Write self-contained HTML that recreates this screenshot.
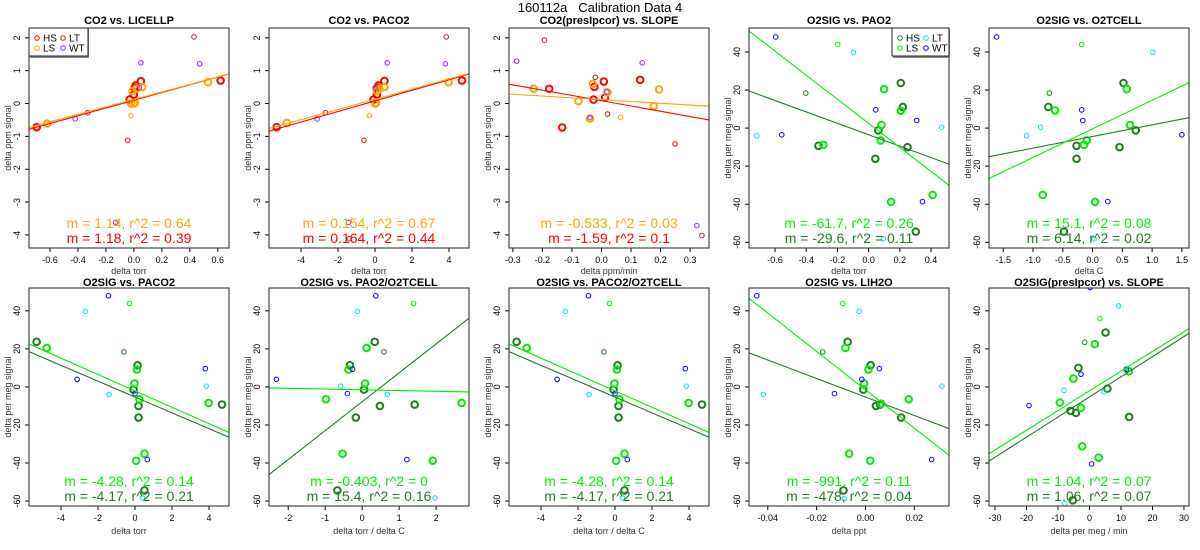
<!DOCTYPE html>
<html><head><meta charset="utf-8"><style>
html,body{margin:0;padding:0;background:#fff;}
svg{display:block;font-family:"Liberation Sans",sans-serif;}
</style></head><body>
<svg id="chart" width="1200" height="550" viewBox="0 0 1200 550" xmlns="http://www.w3.org/2000/svg">
<rect width="1200" height="550" fill="#fff"/>
<text x="600" y="12" text-anchor="middle" font-size="13" style="white-space:pre" xml:space="preserve">160112a   Calibration Data 4</text>
</svg>
<script>
// ---- data (x,y pairs) ----
const p1HS=[[-0.695,-0.72],[-0.03,0.12],[0.0,0.27],[0.006,0.48],[0.013,0.55],[0.05,0.68],[0.62,0.70]];
const p1LS=[[-0.62,-0.61],[-0.02,0.0],[0.0,0.0],[0.008,0.02],[-0.01,0.38],[0.018,0.45],[0.06,0.5],[0.53,0.65]];
const p1LT=[[-0.33,-0.28],[0.43,2.03]];
const p1WT=[[-0.42,-0.47],[0.05,1.24],[0.47,1.21],[-0.13,-3.62],[0.04,0.48]];
const p1HSo=[[-0.044,-1.12]];
const p1LSo=[[-0.02,-0.37]];
const p1Fit=[1.14,0.125,1.18,0.1];
const p1Stat=["m = 1.14, r^2 = 0.64","m = 1.18, r^2 = 0.39"];

const p2HS=[[-5.32,-0.72],[-0.08,0.12],[0.1,0.27],[0.14,0.48],[0.19,0.55],[0.51,0.69],[4.7,0.70]];
const p2LS=[[-4.77,-0.59],[0,0],[0.06,0.02],[0.1,0.38],[0.24,0.45],[0.51,0.5],[3.98,0.65]];
const p2LT=[[-2.68,-0.28],[3.85,2.03],[-1.4,-4.12]];
const p2WT=[[-3.13,-0.47],[0.66,1.24],[3.8,1.21],[-1.44,-3.62],[0,0.48]];
const p2HSo=[[-0.6,-1.12]];
const p2LSo=[[-0.3,-0.37]];
const p2Fit=[0.155,0.128,0.161,0.08];
const p2Stat=["m = 0.154, r^2 = 0.67","m = 0.164, r^2 = 0.44"];

const p3HS=[[-0.177,0.45],[-0.133,-0.73],[-0.027,0.12],[-0.024,0.51],[0.008,0.67],[0.012,0.18],[0.131,0.72]];
const p3LS=[[-0.229,0.45],[-0.078,0.07],[-0.039,-0.46],[-0.029,0.6],[0.02,0.34],[0.177,-0.08],[0.195,0.43]];
const p3LT=[[-0.193,1.93],[-0.021,0.8],[0.02,-0.32],[0.34,-4.02]];
const p3WT=[[-0.287,1.29],[-0.039,-0.43],[0.018,0.35],[0.138,1.24],[0.323,-3.72]];
const p3HSo=[[0.249,-1.23]];
const p3LSo=[[0.065,-0.42]];
const p3Fit=[-0.55,0.118,-1.61,0.086];
const p3Stat=["m = -0.533, r^2 = 0.03","m = -1.59, r^2 = 0.1"];

const p4HS=[[-0.322,-9.3],[0.062,-1.2],[0.043,-16.1],[0.206,23.7],[0.219,11.1],[0.249,-10],[0.302,-54.4]];
const p4LS=[[-0.29,-8.8],[0.099,20.5],[0.082,1.6],[0.077,-6.5],[0.206,9.1],[0.144,-38.8],[0.41,-35.1]];
const p4LT=[[-0.717,-4],[-0.098,39.8],[0.468,0.5],[0.094,-58.2]];
const p4WT=[[-0.596,47.9],[-0.557,-3.5],[0.045,9.6],[0.308,4],[0.345,-38.6]];
const p4HSo=[[-0.403,18.4]];
const p4LSo=[[-0.198,44]];
const p4Fit=[-63.2,2.5,-30,-3.5];
const p4Stat=["m = -61.7, r^2 = 0.26","m = -29.6, r^2 = 0.11"];

const p5HS=[[-0.743,11.1],[-0.27,-9.3],[-0.27,-16.1],[0.452,-10],[0.52,23.7],[0.726,-1.2],[-0.48,-54.4]];
const p5LS=[[-0.63,9.3],[-0.838,-35.1],[-0.143,-8.8],[-0.098,-6.5],[0.042,-38.8],[0.575,20.5],[0.63,1.6]];
const p5LT=[[-1.108,-4],[-0.872,0.5],[1.013,39.8],[0.025,-58.2]];
const p5WT=[[-1.612,47.9],[-0.182,9.6],[-0.165,4],[0.255,-38.6],[1.5,-3.5]];
const p5HSo=[[-0.726,18.4]];
const p5LSo=[[-0.182,44]];
const p5Fit=[15.0,-0.4,6.1,-4.4];
const p5Stat=["m = 15.1, r^2 = 0.08","m = 6.14, r^2 = 0.02"];

const p6HS=[[-5.32,23.7],[-0.08,-1.4],[0.14,11.4],[0.19,-10],[0.19,-16.1],[0.51,-54.4],[4.7,-9.3]];
const p6LS=[[-4.77,20.5],[-0.03,1.8],[0.1,9.1],[0.24,-6.5],[0.06,-38.8],[0.51,-35.1],[3.98,-8.4]];
const p6LT=[[-2.68,39.8],[-1.4,-4],[3.85,0.4],[0.4,-58.4]];
const p6WT=[[-1.44,47.9],[-3.13,4],[0,-3.5],[3.8,9.6],[0.66,-38.2]];
const p6HSo=[[-0.6,18.4]];
const p6LSo=[[-0.3,43.9]];
const p6Fit=[-4.3,-2.1,-4.16,-5.3];
const p6Stat=["m = -4.28, r^2 = 0.14","m = -4.17, r^2 = 0.21"];

const p7HS=[[-0.33,11.4],[0.05,-1.4],[-0.17,-16.1],[0.34,23.7],[0.48,-10],[1.42,-9.3],[-0.67,-54.4]];
const p7LS=[[-0.37,9.1],[0.12,20.5],[0.08,1.8],[-0.98,-6.5],[-0.53,-35.1],[1.91,-38.8],[2.69,-8.4]];
const p7LT=[[-0.13,39.8],[-0.58,0.4],[0.68,-4],[1.97,-58.4]];
const p7WT=[[0.37,47.9],[-2.32,4],[-0.26,9.3],[-0.4,-3.5],[1.21,-38.2]];
const p7HSo=[[0.59,18.4]];
const p7LSo=[[1.39,43.9]];
const p7Fit=[-0.39,-1.5,15.2,-7.8];
const p7Stat=["m = -0.403, r^2 = 0","m = 15.4, r^2 = 0.16"];

const p8HS=p6HS, p8LS=p6LS, p8LT=p6LT, p8WT=p6WT, p8HSo=p6HSo, p8LSo=p6LSo;
const p8Fit=[-4.3,-2.1,-4.16,-5.3];
const p8Stat=["m = -4.28, r^2 = 0.14","m = -4.17, r^2 = 0.21"];

const p9HS=[[-0.0073,23.7],[0.0021,11.4],[-0.0009,-1.4],[0.0043,-10],[0.006,-9.3],[0.0146,-16.1],[-0.009,-54.4]];
const p9LS=[[-0.0082,20.5],[0.0012,9.1],[-0.0006,1.8],[0.0064,-8.8],[0.0177,-6.5],[-0.0067,-35.1],[0.0019,-38.8]];
const p9LT=[[-0.0418,-4],[-0.0026,39.8],[0.0313,0.4],[-0.0087,-58.8]];
const p9WT=[[-0.0445,47.9],[-0.0127,-3.5],[-0.0015,4],[0.0057,9.6],[0.0271,-38.2]];
const p9HSo=[[-0.0175,18.4]];
const p9LSo=[[-0.0093,43.9]];
const p9Fit=[-1007,-1.5,-486,-5.3];
const p9Stat=["m = -991, r^2 = 0.11","m = -478, r^2 = 0.04"];

const p10HS=[[-3.5,10],[5.1,28.6],[-6,-12.6],[-4.3,-13.7],[5.7,-0.9],[12.6,-15.8],[-5.3,-59.6]];
const p10LS=[[1.7,22.5],[-5.1,4.4],[-9.4,-8.2],[-2.7,-11],[12.5,8.2],[-2.3,-31.2],[2.9,-37.2]];
const p10LT=[[-8.1,-1.8],[9.2,42.6],[4.6,-2.6],[-7.8,-61.4]];
const p10WT=[[-19.2,-9.8],[-2.7,6.7],[0.2,52.3],[0.7,-40.5],[11.7,9.3]];
const p10HSo=[[-1.5,23.5]];
const p10LSo=[[3.3,36]];
const p10Fit=[1.036,-2.05,1.058,-5.25];
const p10Stat=["m = 1.04, r^2 = 0.07","m = 1.06, r^2 = 0.07"];

const co2Ticks=[-4,-3,-2,-1,0,1,2];
const o2Ticks=[-60,-40,-20,0,20,40];

// ---- layout / styling ----
const NS="http://www.w3.org/2000/svg";
const svg=document.getElementById('chart');
const CO2C={HS:'#ff0000',LS:'#ffa500',LT:'#a52a2a',WT:'#a020f0'};
const O2C={HS:'#1e7d1e',LS:'#00ee00',LT:'#00e5ee',WT:'#0000ff'};
function mk(tag,attrs,parent){const e=document.createElementNS(NS,tag);for(const k in attrs)e.setAttribute(k,attrs[k]);(parent||svg).appendChild(e);return e;}

const panels=[
 {id:1,px:0,top:true,title:'CO2 vs. LICELLP',xlab:'delta torr',co2:true,xr:[-0.75,0.68],xt:[-0.6,-0.4,-0.2,0,0.2,0.4,0.6],xl:['-0.6','-0.4','-0.2','0.0','0.2','0.4','0.6'],d:[p1HS,p1LS,p1LT,p1WT,p1HSo,p1LSo],f:p1Fit,s:p1Stat,leg:'left'},
 {id:2,px:240,top:true,title:'CO2 vs. PACO2',xlab:'delta torr',co2:true,xr:[-5.73,5.08],xt:[-4,-2,0,2,4],xl:['-4','-2','0','2','4'],d:[p2HS,p2LS,p2LT,p2WT,p2HSo,p2LSo],f:p2Fit,s:p2Stat},
 {id:3,px:480,top:true,title:'CO2(presIpcor) vs. SLOPE',xlab:'delta ppm/min',co2:true,xr:[-0.313,0.364],xt:[-0.3,-0.2,-0.1,0,0.1,0.2,0.3],xl:['-0.3','-0.2','-0.1','0.0','0.1','0.2','0.3'],d:[p3HS,p3LS,p3LT,p3WT,p3HSo,p3LSo],f:p3Fit,s:p3Stat},
 {id:4,px:720,top:true,title:'O2SIG vs. PAO2',xlab:'delta torr',co2:false,xr:[-0.767,0.515],xt:[-0.6,-0.4,-0.2,0,0.2,0.4],xl:['-0.6','-0.4','-0.2','0.0','0.2','0.4'],d:[p4HS,p4LS,p4LT,p4WT,p4HSo,p4LSo],f:p4Fit,s:p4Stat,leg:'right'},
 {id:5,px:960,top:true,title:'O2SIG vs. O2TCELL',xlab:'delta C',co2:false,xr:[-1.74,1.62],xt:[-1.5,-1,-0.5,0,0.5,1,1.5],xl:['-1.5','-1.0','-0.5','0.0','0.5','1.0','1.5'],d:[p5HS,p5LS,p5LT,p5WT,p5HSo,p5LSo],f:p5Fit,s:p5Stat},
 {id:6,px:0,top:false,title:'O2SIG vs. PACO2',xlab:'delta torr',co2:false,xr:[-5.73,5.08],xt:[-4,-2,0,2,4],xl:['-4','-2','0','2','4'],d:[p6HS,p6LS,p6LT,p6WT,p6HSo,p6LSo],f:p6Fit,s:p6Stat},
 {id:7,px:240,top:false,title:'O2SIG vs. PAO2/O2TCELL',xlab:'delta torr / delta C',co2:false,xr:[-2.52,2.89],xt:[-2,-1,0,1,2],xl:['-2','-1','0','1','2'],d:[p7HS,p7LS,p7LT,p7WT,p7HSo,p7LSo],f:p7Fit,s:p7Stat},
 {id:8,px:480,top:false,title:'O2SIG vs. PACO2/O2TCELL',xlab:'delta torr / delta C',co2:false,xr:[-5.73,5.08],xt:[-4,-2,0,2,4],xl:['-4','-2','0','2','4'],d:[p8HS,p8LS,p8LT,p8WT,p8HSo,p8LSo],f:p8Fit,s:p8Stat},
 {id:9,px:720,top:false,title:'O2SIG vs. LIH2O',xlab:'delta ppt',co2:false,xr:[-0.0477,0.0342],xt:[-0.04,-0.02,0,0.02],xl:['-0.04','-0.02','0.00','0.02'],d:[p9HS,p9LS,p9LT,p9WT,p9HSo,p9LSo],f:p9Fit,s:p9Stat},
 {id:10,px:960,top:false,title:'O2SIG(presIpcor) vs. SLOPE',xlab:'delta per meg / min',co2:false,xr:[-31.9,31.6],xt:[-30,-20,-10,0,10,20,30],xl:['-30','-20','-10','0','10','20','30'],d:[p10HS,p10LS,p10LT,p10WT,p10HSo,p10LSo],f:p10Fit,s:p10Stat}
];

panels.forEach(p=>{
  const x0=p.px+29,x1=p.px+229;
  const y0=p.top?28:288,y1=p.top?248:506;
  const yr=p.co2?[-4.4,2.3]:(p.top?[-63,52.6]:[-62.6,52]);
  const C=p.co2?CO2C:O2C;
  const sx=v=>x0+(v-p.xr[0])/(p.xr[1]-p.xr[0])*(x1-x0);
  const sy=v=>y1-(v-yr[0])/(yr[1]-yr[0])*(y1-y0);
  const g=mk('g',{});
  
  
  const cp=mk('clipPath',{id:'cp'+p.id},g);
  mk('rect',{x:x0,y:y0,width:x1-x0,height:y1-y0},cp);
  const t=mk('text',{x:(x0+x1)/2,y:p.top?24:286,'text-anchor':'middle','font-size':'11','font-weight':'bold'},g);
  t.textContent=p.title;
  
  
  const xlb=mk('text',{x:(x0+x1)/2,y:p.top?274:534,'text-anchor':'middle','font-size':'9',fill:'#333'},g);
  xlb.textContent=p.xlab;
  
  
  const ym=(y0+y1)/2;
  const ylb=mk('text',{x:p.px+11,y:ym,'text-anchor':'middle','font-size':'9',fill:'#333',transform:`rotate(-90 ${p.px+11} ${ym})`},g);
  ylb.textContent=p.co2?'delta ppm signal':'delta per meg signal';
  
  
  p.xt.forEach((v,i)=>{
    const X=sx(v);
    mk('line',{x1:X,x2:X,y1:y1,y2:y1+4,stroke:'#000','stroke-width':1},g);
    const tl=mk('text',{x:X,y:y1+15,'text-anchor':'middle','font-size':'9'},g);
    tl.textContent=p.xl[i];
    
    
  });
  (p.co2?co2Ticks:o2Ticks).forEach(v=>{
    const Y=sy(v);
    mk('line',{x1:x0-4,x2:x0,y1:Y,y2:Y,stroke:'#000','stroke-width':1},g);
    const tl=mk('text',{x:p.px+20,y:Y,'text-anchor':'middle','font-size':'9',transform:`rotate(-90 ${p.px+20} ${Y})`},g);
    tl.textContent=String(v);
    
    
  });
  const inner=mk('g',{'clip-path':`url(#cp${p.id})`},g);
  const specs=[[C.HS,3.3,2],[C.LS,3.3,2],[C.LT,2.3,1],[C.WT,2.3,1],[C.HS,2.3,1],[C.LS,2.3,1]];
  const names=['point-hs','point-ls','point-lt','point-wt','point-hs-excluded','point-ls-excluded'];
  p.d.forEach((arr,si)=>{
    arr.forEach(pt=>{
      const c=mk('circle',{cx:sx(pt[0]),cy:sy(pt[1]),r:specs[si][1],fill:'none',stroke:specs[si][0],'stroke-width':specs[si][2]},inner);
      
      
    });
  });
  [[p.f[2],p.f[3],C.HS,'fit-line-hs'],[p.f[0],p.f[1],C.LS,'fit-line-ls']].forEach(l=>{
    const ln=mk('line',{x1:sx(p.xr[0]),y1:sy(l[0]*p.xr[0]+l[1]),x2:sx(p.xr[1]),y2:sy(l[0]*p.xr[1]+l[1]),stroke:l[2],'stroke-width':1.1},inner);
    
    
  });
  mk('rect',{x:x0,y:y0,width:x1-x0,height:y1-y0,fill:'none',stroke:'#222','stroke-width':1},g);
  const by=p.top?228:486;
  [[p.s[0],C.LS,by],[p.s[1],C.HS,by+15]].forEach(s=>{
    const st=mk('text',{x:(x0+x1)/2,y:s[2],'text-anchor':'middle','font-size':'14',fill:s[1]},g);
    st.textContent=s[0];
    
    
  });
  if(p.leg){
    const lw=p.leg==='left'?59:57;
    const lx=p.leg==='left'?x0:x1-lw;
    const lg=mk('g',{},g);
    
    
    mk('rect',{x:lx+1,y:y0+1,width:lw,height:29,fill:'#888'},lg);
    mk('rect',{x:lx,y:y0,width:lw,height:28,fill:'#fff',stroke:'#222','stroke-width':1},lg);
    [['HS',C.HS,0,0],['LT',C.LT,26,0],['LS',C.LS,0,1],['WT',C.WT,26,1]].forEach(e=>{
      const cy=y0+10+e[3]*10,cx=lx+8+e[2];
      const ent=mk('g',{},lg);
      
      
      mk('circle',{cx:cx,cy:cy,r:2.3,fill:'none',stroke:e[1],'stroke-width':1},ent);
      const tx=mk('text',{x:cx+6,y:cy+3.5,'font-size':'10'},ent);
      tx.textContent=e[0];
    });
  }
});
</script>
</body></html>
